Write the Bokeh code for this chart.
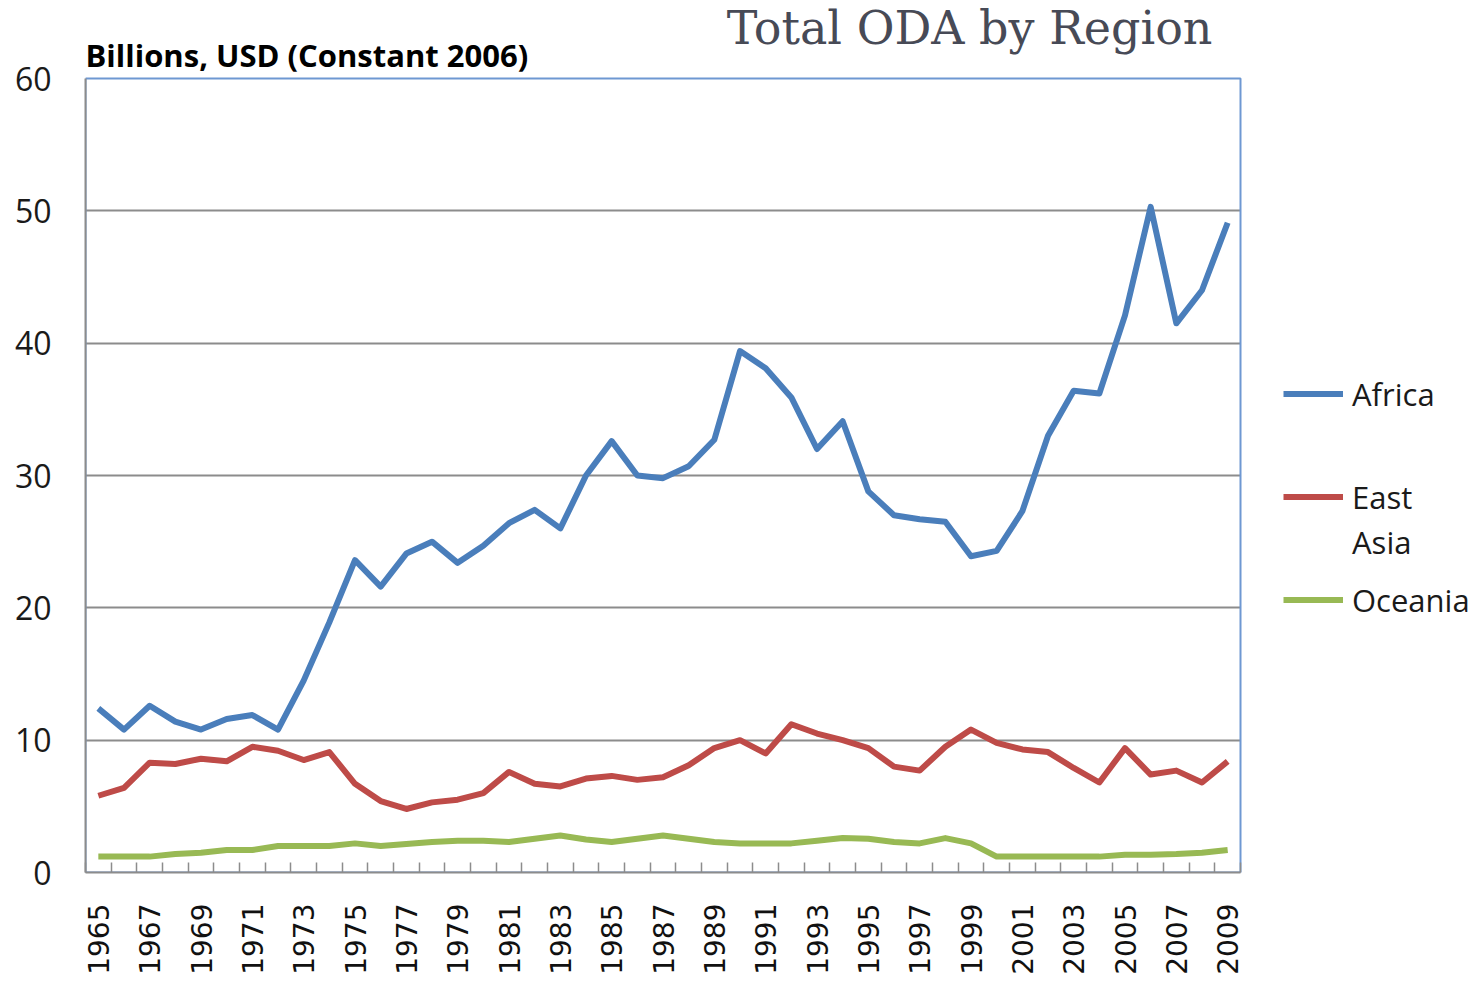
import math
from bokeh.plotting import figure
from bokeh.models import (Range1d, FixedTicker, Legend, LegendItem, Label, BoxAnnotation)
from bokeh.embed import file_html
from bokeh.resources import INLINE

years = list(range(1965, 2010))

africa = [12.4, 10.8, 12.6, 11.4, 10.8, 11.6, 11.9, 10.8, 14.5, 18.9,
          23.6, 21.6, 24.1, 25.0, 23.4, 24.7, 26.4, 27.4, 26.0, 30.0,
          32.6, 30.0, 29.8, 30.7, 32.7, 39.4, 38.1, 35.9, 32.0, 34.1,
          28.8, 27.0, 26.7, 26.5, 23.9, 24.3, 27.3, 33.0, 36.4, 36.2,
          42.1, 50.3, 41.5, 44.0, 49.1]

east_asia = [5.8, 6.4, 8.3, 8.2, 8.6, 8.4, 9.5, 9.2, 8.5, 9.1,
             6.7, 5.4, 4.8, 5.3, 5.5, 6.0, 7.6, 6.7, 6.5, 7.1,
             7.3, 7.0, 7.2, 8.1, 9.4, 10.0, 9.0, 11.2, 10.5, 10.0,
             9.4, 8.0, 7.7, 9.5, 10.8, 9.8, 9.3, 9.1, 7.9, 6.8,
             9.4, 7.4, 7.7, 6.8, 8.4]

oceania = [1.2, 1.2, 1.2, 1.4, 1.5, 1.7, 1.7, 2.0, 2.0, 2.0,
           2.2, 2.0, 2.15, 2.3, 2.4, 2.4, 2.3, 2.55, 2.8, 2.5,
           2.3, 2.55, 2.8, 2.55, 2.3, 2.2, 2.2, 2.2, 2.4, 2.6,
           2.55, 2.3, 2.2, 2.6, 2.2, 1.2, 1.2, 1.2, 1.2, 1.2,
           1.35, 1.35, 1.4, 1.5, 1.7]

series_names = ["Africa", "East Asia", "Oceania"]
series_colors = ["#4A7EBB", "#BE4B48", "#98B954"]

y_ticks = [0, 10, 20, 30, 40, 50, 60]
y_max = 60
label_years = years[::2]

# layout (pixels)
PLOT_W = 1155          # plot-area width
PLOT_H = 794           # plot-area height (0..60)
TOP_PAD = 78           # title area above the plot area
RIGHT_PAD = 233        # legend area to the right
px_per_year = PLOT_W / len(years)
px_per_unit = PLOT_H / y_max

x0 = years[0] - 0.5
x1 = years[-1] + 0.5

p = figure(frame_width=PLOT_W + RIGHT_PAD, frame_height=PLOT_H + TOP_PAD,
           min_border_left=85, min_border_top=0,
           min_border_right=0, min_border_bottom=105,
           x_range=Range1d(x0, x1 + RIGHT_PAD / px_per_year),
           y_range=Range1d(0, y_max + TOP_PAD / px_per_unit),
           output_backend="svg", toolbar_location=None,
           background_fill_color="white", border_fill_color="white")

p.outline_line_color = None

# plot-area border (top/right blue; left/bottom covered by axes)
p.add_layout(BoxAnnotation(left=x0, right=x1, bottom=0, top=y_max,
                           fill_alpha=0, line_color="#6E98D2", line_alpha=1.0,
                           line_width=2, level="underlay"))

# x axis
p.xaxis.bounds = (x0, x1)
p.xaxis.ticker = FixedTicker(ticks=label_years,
                             minor_ticks=[y - 0.5 for y in years] + [x1])
p.xaxis.major_label_overrides = {y: str(y) for y in label_years}
p.xaxis.major_tick_line_color = None
p.xaxis.major_tick_out = 0
p.xaxis.major_tick_in = 0
p.xaxis.minor_tick_in = 10
p.xaxis.minor_tick_out = 0
p.xaxis.minor_tick_line_color = "#8C8C8C"
p.xaxis.minor_tick_line_width = 1.5
p.xaxis.axis_line_color = "#8C8C8C"
p.xaxis.axis_line_width = 2
p.xaxis.major_label_orientation = math.pi / 2
p.xaxis.major_label_standoff = 31
p.xaxis.major_label_text_font = "DejaVu Sans"
p.xaxis.major_label_text_font_size = "28px"
p.xaxis.major_label_text_color = "#111111"

# y axis
p.yaxis.bounds = (0, y_max)
p.yaxis.ticker = FixedTicker(ticks=y_ticks)
p.yaxis.major_tick_line_color = None
p.yaxis.major_tick_out = 0
p.yaxis.minor_tick_line_color = None
p.yaxis.axis_line_color = "#8C8C8C"
p.yaxis.axis_line_width = 2
p.yaxis.major_label_standoff = 34
p.yaxis.major_label_text_font = "Open Sans"
p.yaxis.major_label_text_font_size = "32px"
p.yaxis.major_label_text_color = "#1a1a1a"

p.xgrid.grid_line_color = None
p.ygrid.ticker = FixedTicker(ticks=y_ticks[1:-1])
p.ygrid.grid_line_color = "#8C8C8C"
p.ygrid.grid_line_width = 2
p.ygrid.cross_bounds = (x0, x1)

renderers = []
for vals, col in zip([africa, east_asia, oceania], series_colors):
    r = p.line(years, vals, line_color=col, line_width=6, line_join="round")
    renderers.append(r)

# invisible spacer renderer for the wrapped second legend line
spacer = p.line(x=[], y=[], line_alpha=0)


def make_legend(items, loc):
    lg = Legend(items=items, location=loc)
    lg.border_line_color = None
    lg.background_fill_alpha = 0
    lg.padding = 0
    lg.margin = 0
    lg.glyph_width = 60
    lg.glyph_height = 45
    lg.label_height = 45
    lg.label_standoff = 9
    lg.spacing = 0
    lg.label_text_font = "Open Sans"
    lg.label_text_font_size = "31px"
    lg.label_text_color = "#1a1a1a"
    p.add_layout(lg, "center")
    return lg


lx = PLOT_W + 43
first, second = series_names[1].split(" ")
make_legend([LegendItem(label=series_names[0], renderers=[renderers[0]])], (lx, 456))
make_legend([LegendItem(label=first, renderers=[renderers[1]]),
             LegendItem(label=second, renderers=[spacer])], (lx, 308))
make_legend([LegendItem(label=series_names[2], renderers=[renderers[2]])], (lx, 250))

p.add_layout(Label(x=x0, y=y_max, y_offset=24,
                   text="Billions, USD (Constant 2006)",
                   text_font="Open Sans", text_font_style="bold",
                   text_font_size="31px", text_color="#000000",
                   text_baseline="alphabetic", text_align="left"))

p.add_layout(Label(x=x1, y=y_max, x_offset=-28, y_offset=51,
                   text="Total ODA by Region",
                   text_font="DejaVu Serif",
                   text_font_size="46px", text_color="#474A56",
                   text_baseline="alphabetic", text_align="right"))

open("out.html", "w").write(file_html(p, INLINE))
